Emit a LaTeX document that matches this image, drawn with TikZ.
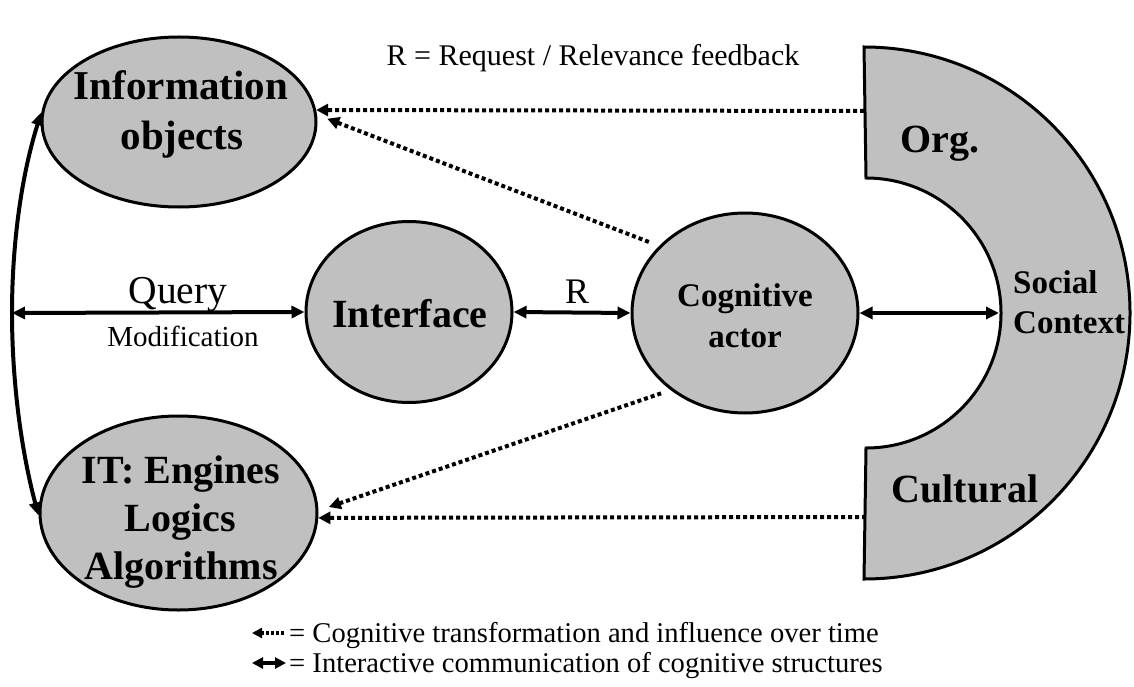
\documentclass[tikz,border=0pt]{standalone}
\usepackage{fontspec}
\setmainfont{Liberation Serif}
\usetikzlibrary{arrows.meta,shapes.geometric}
\definecolor{shade}{RGB}{192,192,192}
\newcommand\fsz[1]{\fontsize{#1}{#1}\selectfont}
\tikzset{
  blob/.style={ellipse, draw=black, line width=3pt, fill=shade, inner sep=0pt},
  heavy/.style={font=\fsz{#1}\bfseries, inner sep=0pt, anchor=base},
  plain/.style={font=\fsz{#1}, inner sep=0pt, anchor=base},
  talk/.style={line width=4pt,
    {Triangle[length=13pt,width=12pt]}-{Triangle[length=13pt,width=12pt]}},
  infl/.style={line width=4pt, dash pattern=on 4pt off 3pt,
    -{Triangle[length=12pt,width=12pt]}},
}
\begin{document}
\begin{tikzpicture}[x=1pt, y={(0pt,-1pt)}]
  \fill[white] (0,0) rectangle (1134,687);
  \useasboundingbox (0,0) rectangle (1134,687);

  % main actors of the model
  \node[blob, minimum width=274pt, minimum height=170pt] (info)  at (179,122) {};
  \node[blob, minimum width=277pt, minimum height=194pt] (it)    at (178.5,513) {};
  \node[blob, minimum width=206pt, minimum height=181pt] (iface) at (409,312) {};
  \node[blob, minimum width=226pt, minimum height=200pt] (actor) at (745,313) {};

  % social context: half ring
  \draw[line width=3pt, fill=shade]
    (864,47) arc[start angle=-90, end angle=90, radius=266]
    -- (866,448) arc[start angle=90, end angle=-90, radius=135] -- cycle;
  \coordinate (orgedge) at (864,111);
  \coordinate (culedge) at (866,517);
  \coordinate (inner)   at (999,313);
  \coordinate (hub)     at (12,313);

  % labels
  \node[heavy=41] (l-info1) at (181,100) {Information};
  \node[heavy=41] (l-info2) at (182,150) {objects};
  \node[heavy=40] (l-it1) at (181,483) {IT: Engines};
  \node[heavy=40] (l-it2) at (180,531) {Logics};
  \node[heavy=40] (l-it3) at (181,579) {Algorithms};
  \node[heavy=40] (l-iface) at (410,327) {Interface};
  \node[heavy=33] (l-act1) at (745,306) {Cognitive};
  \node[heavy=33] (l-act2) at (745,347) {actor};
  \node[heavy=40] (l-org) at (940,153) {Org.};
  \node[heavy=33, anchor=base west] (l-soc1) at (1013,293) {Social};
  \node[heavy=33, anchor=base west] (l-soc2) at (1013,333) {Context};
  \node[heavy=40] (l-cul) at (965,502) {Cultural};

  \node[plain=30] (title) at (593,66) {R = Request / Relevance feedback};
  \node[plain=39.5] (l-query) at (178,303) {Query};
  \node[plain=29] (l-mod) at (183,346) {Modification};
  \node[plain=36] (l-r) at (577,303) {R};

  % interactive communication
  \draw[talk] (info.176) .. controls (20,180) and (12,250) .. (hub)
              .. controls (12,376) and (20,446) .. (it.181);
  \draw[talk] (hub) -- (iface.west);
  \draw[talk] (iface.east) -- (actor.west);
  \draw[talk] (actor.east) -- (inner);

  % cognitive transformation and influence
  \draw[infl] (orgedge) -- (info.5);
  \draw[infl, shorten <=11pt, shorten >=11pt] (actor.142) -- (info.3);
  \draw[infl, shorten <=10pt, shorten >=11pt] (actor.226) -- (it.1);
  \draw[infl] (culedge) -- (it.358);

  % legend
  \coordinate (k1a) at (252,633); \coordinate (k1b) at (286,633);
  \coordinate (k2a) at (252,663); \coordinate (k2b) at (286,663);
  \draw[line width=3.5pt, dash pattern=on 3pt off 2pt,
        {Triangle[length=10pt,width=10pt]}-] (k1a) -- (k1b);
  \draw[line width=3.5pt,
        {Triangle[length=11pt,width=11pt]}-{Triangle[length=11pt,width=11pt]}] (k2a) -- (k2b);
  \node[plain=28.6, anchor=base west] (key1) at (289,642)
    {= Cognitive transformation and influence over time};
  \node[plain=28.6, anchor=base west] (key2) at (289,672)
    {= Interactive communication of cognitive structures};
\end{tikzpicture}
\end{document}
